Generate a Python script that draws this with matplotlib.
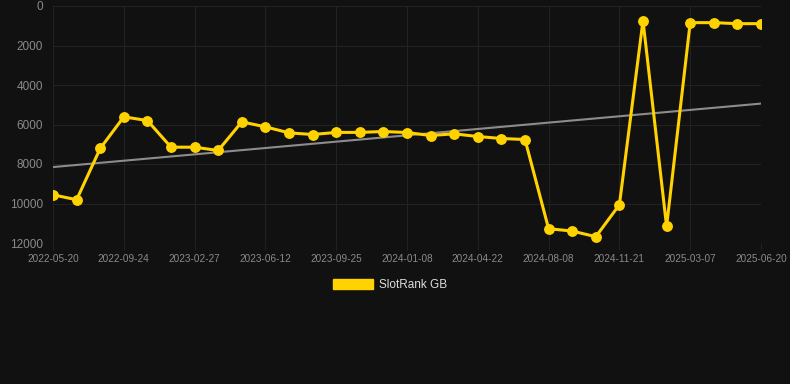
import matplotlib
matplotlib.use("Agg")
import matplotlib.pyplot as plt
from matplotlib.patches import Patch
import numpy as np

plt.rcParams['font.family'] = ['Liberation Sans', 'DejaVu Sans']

dates = ["2022-05-20", "2022-06-24", "2022-07-30", "2022-09-24", "2022-10-29", "2022-12-03",
         "2023-02-27", "2023-04-03", "2023-05-08", "2023-06-12", "2023-07-17", "2023-08-21",
         "2023-09-25", "2023-10-30", "2023-12-04", "2024-01-08", "2024-02-12", "2024-03-18",
         "2024-04-22", "2024-05-28", "2024-07-03", "2024-08-08", "2024-09-12", "2024-10-17",
         "2024-11-21", "2024-12-26", "2025-01-30", "2025-03-07", "2025-04-11", "2025-05-16",
         "2025-06-20"]
rank = [9560, 9810, 7215, 5613, 5800, 7147, 7150, 7316, 5866, 6119, 6422, 6507,
        6400, 6400, 6355, 6406, 6557, 6473, 6608, 6709, 6760, 11277, 11395, 11681,
        10063, 742, 11159, 843, 843, 894, 894]
series_label = "SlotRank GB"
yticks = [0, 2000, 4000, 6000, 8000, 10000, 12000]

BG = "#111111"
GOLD = "#FFD200"
GRID = "#222222"
TICK = "#8a8a8a"

fig = plt.figure(figsize=(7.9, 3.84), dpi=100, facecolor=BG)
ax = fig.add_axes([53/790, 1-243/384, (761-53)/790, (243-6)/384], facecolor=BG)

x = np.arange(len(rank))
# trend line (linear regression)
coef = np.polyfit(x, rank, 1)
ax.plot(x, np.polyval(coef, x), color="#8c8c8c", lw=1.5, zorder=2)

line, = ax.plot(x, rank, color=GOLD, lw=2.2, marker="o", markersize=6.8,
                solid_joinstyle="miter", zorder=3)

ax.set_xlim(0, len(rank)-1)
ax.set_ylim(12000, 0)
ax.set_yticks(yticks)
ax.set_yticklabels([str(v) for v in yticks])
tick_idx = list(range(0, len(rank), 3))
ax.set_xticks(tick_idx)
ax.set_xticklabels([dates[i] for i in tick_idx])

ax.grid(True, color=GRID, lw=0.8, zorder=0)
for s in ax.spines.values():
    s.set_visible(False)
ax.tick_params(axis="y", colors=TICK, labelsize=8.5, length=0, pad=7)
ax.tick_params(axis="x", colors=GRID, labelcolor=TICK, labelsize=7.2, length=5, pad=3)

handle = Patch(facecolor=GOLD, edgecolor=GOLD)
leg = fig.legend([handle], [series_label], loc="center", bbox_to_anchor=(390/790, 1-285/384),
                 frameon=False, handlelength=3.4, handleheight=1.0, handletextpad=0.5,
                 fontsize=8.5)
for t in leg.get_texts():
    t.set_color("#dddddd")

fig.savefig("out.png", dpi=100, facecolor=BG)
